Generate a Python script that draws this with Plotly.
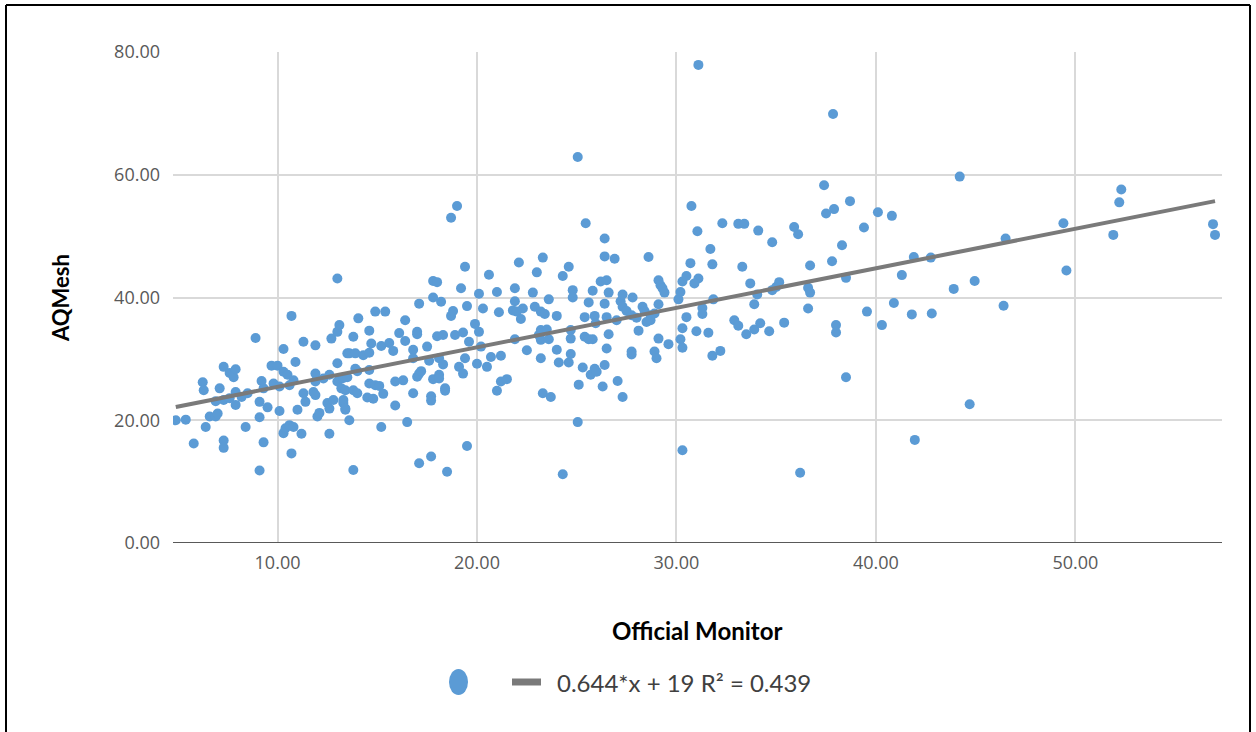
import plotly.graph_objects as go

# Official Monitor (x) values
official = [
    4.9, 5.4, 5.8, 6.25, 6.3, 6.4, 6.6, 6.9, 6.9, 7.0, 7.1, 7.3, 7.3, 7.3, 7.3, 7.6, 7.6, 7.8, 7.9, 7.9, 7.9, 8.2, 8.4, 8.5, 8.9, 9.1, 9.1, 9.1, 9.2, 9.3, 9.3, 9.5, 9.7, 9.8,
    10.0, 10.1, 10.1, 10.3, 10.3, 10.3, 10.4, 10.5, 10.6, 10.6, 10.7, 10.7, 10.8, 10.8, 10.9, 11.0, 11.2, 11.3, 11.3, 11.4, 11.8, 11.9, 11.9, 11.9, 11.9, 12.0, 12.1, 12.3, 12.5, 12.6, 12.6, 12.6, 12.7, 12.8, 13.0, 13.0, 13.0, 13.0, 13.1, 13.2, 13.2, 13.3, 13.3, 13.3, 13.4, 13.4, 13.4, 13.5, 13.5,
    13.6, 13.6, 13.8, 13.8, 13.8, 13.9, 13.9, 14.0, 14.0, 14.05, 14.3, 14.5, 14.6, 14.6, 14.6, 14.6, 14.7, 14.8, 14.9, 14.9, 15.1, 15.2, 15.2, 15.3, 15.4, 15.6, 15.8, 15.9, 15.9, 16.1, 16.3, 16.4, 16.4, 16.5, 16.8, 16.8, 16.8, 17.0, 17.0, 17.0, 17.1, 17.1, 17.1, 17.2, 17.5, 17.6, 17.7, 17.7, 17.7, 17.8, 17.8, 17.8, 18.0, 18.0, 18.1, 18.1, 18.1, 18.2, 18.3, 18.3, 18.4, 18.4, 18.5, 18.7, 18.7, 18.8, 18.9, 19.0, 19.1, 19.2, 19.3, 19.3, 19.4, 19.4,
    19.5, 19.5, 19.6, 19.9, 20.0, 20.1, 20.2, 20.5, 20.7, 21.2, 21.9, 21.2, 21.5, 21.0, 20.6, 20.1, 21.0, 20.3, 21.1,
    21.9, 21.9, 21.8, 22.3, 22.0, 22.1, 22.2, 22.5, 22.8, 22.9, 23.0, 23.1, 23.2, 23.2, 23.2, 23.2, 23.3, 23.3, 23.4, 23.5, 23.6, 23.6, 23.7, 24.0, 24.0, 24.1, 24.3, 24.3, 24.6, 24.6, 24.7, 24.7, 24.7, 24.8, 24.8, 25.05, 25.05, 25.1, 25.3, 25.4, 25.4, 25.45, 25.6, 25.6, 25.7, 25.8, 25.8, 25.9, 25.95, 25.9, 26.0, 26.2, 26.3, 26.4, 26.4, 26.4, 26.4, 26.5, 26.5, 26.5, 26.6, 26.6, 26.9, 27.0, 27.05, 27.2, 27.3, 27.3, 27.3, 27.5, 27.75, 27.75, 27.75, 27.8, 28.0, 28.1, 28.3, 28.4, 28.5, 28.6, 28.7, 28.7, 28.9, 28.9, 29.0, 29.1, 29.1, 29.1, 29.2, 29.3, 29.4, 29.6,
    30.1, 30.2, 30.3, 30.5, 30.5, 30.3, 30.2, 30.3, 30.7, 30.3, 30.75, 31.05, 31.1, 31.1, 30.9, 31.0, 31.3, 31.3, 31.6, 31.7, 31.8, 31.85, 31.8, 32.2, 32.3, 32.9, 33.1, 33.1, 33.3, 33.4, 33.5, 33.7, 33.9, 33.9, 34.05, 34.1, 34.2, 34.65, 34.8, 34.8, 35.0, 35.15, 35.4, 35.9, 36.1, 36.2, 36.6, 36.6, 36.7, 36.7, 37.4, 37.5, 37.8, 37.85, 37.9, 38.0, 38.0, 38.3, 38.5, 38.5, 38.7, 39.4, 39.55, 40.1, 40.3, 40.8, 40.9, 41.3, 41.8, 41.9, 41.95, 42.75, 42.8, 43.9, 44.2, 44.7, 44.95, 46.4, 46.5, 49.4, 49.55, 51.9, 52.2, 52.3, 56.9, 57.0,
]

# AQMesh (y) values
aqmesh = [
    20.0, 20.1, 16.2, 26.2, 24.9, 18.9, 20.6, 20.6, 23.1, 21.1, 25.2, 16.7, 15.5, 28.7, 23.3, 23.6, 27.7, 27.0, 28.3, 24.6, 22.5, 23.8, 18.9, 24.4, 33.4, 11.8, 23.0, 20.5, 26.4, 25.2, 16.4, 22.1, 28.9, 26.0,
    28.9, 25.5, 21.5, 31.6, 27.9, 17.9, 18.7, 27.4, 25.7, 19.2, 37.0, 14.6, 26.5, 18.9, 29.5, 21.7, 17.8, 32.8, 24.4, 23.0, 24.6, 32.2, 27.6, 26.3, 24.1, 20.6, 21.2, 26.8, 22.8, 27.4, 21.9, 17.8, 33.3, 23.3, 43.1, 34.4, 26.3, 29.3, 35.5, 26.8, 25.2, 26.9, 22.8, 23.3, 21.7, 24.9, 21.9, 30.9, 27.0,
    30.9, 20.0, 33.6, 24.9, 11.9, 30.9, 28.4, 28.0, 24.4, 36.6, 30.6, 23.7, 34.6, 31.0, 28.2, 26.0, 32.5, 23.5, 37.7, 25.7, 25.6, 32.1, 18.9, 24.3, 37.7, 32.6, 31.3, 26.3, 22.4, 34.2, 26.5, 36.3, 32.9, 19.7, 31.5, 30.1, 24.4, 34.4, 34.0, 27.1, 39.0, 27.6, 13.0, 28.0, 32.0, 29.7, 23.9, 23.2, 14.1, 42.7, 40.0, 26.7, 42.5, 33.7, 30.1, 27.4, 26.8, 39.3, 33.9, 29.1, 25.2, 24.8, 11.6, 53.0, 37.0, 37.8, 33.9, 54.9, 28.7, 41.5, 34.3, 27.6, 45.0, 30.1,
    38.6, 15.8, 32.8, 35.7, 29.2, 34.4, 32.0, 28.7, 30.3, 30.5, 33.2, 26.3, 26.7, 24.8, 43.7, 40.6, 40.9, 38.2, 37.6,
    41.5, 39.4, 37.9, 38.2, 37.7, 45.7, 36.5, 31.4, 40.8, 38.5, 44.1, 33.9, 37.7, 34.7, 33.1, 30.1, 46.5, 24.4, 37.3, 34.8, 39.7, 33.2, 23.8, 37.0, 31.5, 29.4, 43.5, 11.2, 45.0, 29.4, 34.7, 33.3, 30.8, 41.2, 40.0, 62.9, 19.7, 25.8, 28.6, 36.8, 33.6, 52.1, 39.2, 33.2, 27.4, 41.1, 33.2, 37.0, 35.8, 28.4, 27.9, 42.6, 25.5, 49.6, 46.7, 39.0, 29.0, 42.8, 36.8, 31.7, 40.8, 34.0, 46.3, 36.3, 26.4, 39.4, 40.5, 38.5, 23.8, 37.8, 37.1, 31.2, 30.7, 40.0, 36.7, 34.6, 38.5, 37.8, 36.0, 46.6, 37.1, 36.3, 37.4, 31.2, 30.1, 42.8, 38.9, 33.3, 42.0, 41.5, 40.8, 32.4,
    39.7, 40.9, 42.6, 43.5, 36.8, 35.0, 33.2, 31.8, 45.6, 15.1, 54.9, 50.8, 77.9, 43.1, 42.3, 34.5, 38.3, 37.3, 34.25, 47.9, 45.4, 39.7, 30.5, 31.3, 52.1, 36.3, 52.0, 35.4, 45.0, 52.0, 34.0, 42.3, 38.9, 34.8, 40.5, 50.9, 35.8, 34.5, 49.0, 41.2, 41.7, 42.5, 35.9, 51.5, 50.3, 11.45, 41.6, 38.2, 45.2, 40.8, 58.3, 53.7, 45.9, 69.9, 54.4, 35.5, 34.3, 48.5, 43.2, 27.0, 55.7, 51.4, 37.7, 53.9, 35.5, 53.3, 39.1, 43.65, 37.25, 46.6, 16.8, 46.5, 37.4, 41.4, 59.7, 22.6, 42.7, 38.65, 49.6, 52.1, 44.4, 50.2, 55.5, 57.6, 51.95, 50.2,
]

# Trend line (from legend): y = slope * x + intercept
slope = 0.644
intercept = 19
trend_label = "0.644*x + 19 R\u00b2 = 0.439"

x_ticks = [10, 20, 30, 40, 50]
y_ticks = [0, 20, 40, 60, 80]

tx = [min(official), max(official)]
ty = [slope * v + intercept for v in tx]

fig = go.Figure()
fig.add_trace(go.Scatter(
    x=official, y=aqmesh, mode="markers",
    marker=dict(size=10, color="#5B9BD5", line=dict(width=0)),
    showlegend=False, hoverinfo="x+y",
))
fig.add_trace(go.Scatter(
    x=tx, y=ty, mode="lines",
    line=dict(color="#7a7a7a", width=4),
    showlegend=False,
))

# plot area in pixels
L, R, T, B = 173, 1222, 52, 543
W, H = 1256, 732

def px(x):
    return (x - L) / (R - L)

def py(y):
    return (B - y) / (B - T)

tick_font = dict(family="Open Sans, sans-serif", size=18, color="#595959")

fig.update_layout(
    width=W, height=H,
    margin=dict(l=L, r=W - R, t=T, b=H - B),
    paper_bgcolor="white", plot_bgcolor="white",
    showlegend=False,
    xaxis=dict(
        range=[4.76, 57.35], tickvals=x_ticks, tickformat=".2f",
        showgrid=True, gridcolor="#d9d9d9", gridwidth=2,
        zeroline=False, showline=False, ticks="",
        tickfont=tick_font, ticklabelstandoff=7,
    ),
    yaxis=dict(
        range=[0, 80], tickvals=y_ticks, tickformat=".2f",
        showgrid=True, gridcolor="#d9d9d9", gridwidth=2,
        zeroline=False, showline=False, ticks="",
        tickfont=tick_font, ticklabelstandoff=12,
    ),
    shapes=[
        # darker baseline at y = 0
        dict(type="line", xref="paper", yref="y", x0=0, x1=1, y0=0, y1=0,
             line=dict(color="#595959", width=2)),
        # outer frame
        dict(type="line", xref="paper", yref="paper", x0=px(6), x1=px(1250), y0=py(5), y1=py(5),
             line=dict(color="black", width=2)),
        dict(type="line", xref="paper", yref="paper", x0=px(6), x1=px(6), y0=py(5), y1=py(740),
             line=dict(color="black", width=2)),
        dict(type="line", xref="paper", yref="paper", x0=px(1250), x1=px(1250), y0=py(5), y1=py(740),
             line=dict(color="black", width=2)),
        # legend symbols
        dict(type="circle", xref="paper", yref="paper", x0=px(449), x1=px(468), y0=py(669), y1=py(695),
             fillcolor="#5B9BD5", line=dict(width=0)),
        dict(type="line", xref="paper", yref="paper", x0=px(512), x1=px(541), y0=py(682), y1=py(682),
             line=dict(color="#7a7a7a", width=7)),
    ],
    annotations=[
        dict(text="<b>Official Monitor</b>", xref="paper", yref="paper", x=px(697), y=py(630),
             xanchor="center", yanchor="middle", showarrow=False,
             font=dict(family="Lato, sans-serif", size=24, color="#000000")),
        dict(text="<b>AQMesh</b>", xref="paper", yref="paper", x=px(60), y=py(298),
             xanchor="center", yanchor="middle", showarrow=False, textangle=-90,
             font=dict(family="Lato, sans-serif", size=22, color="#000000")),
        dict(text=trend_label, xref="paper", yref="paper", x=px(555), y=py(682),
             xanchor="left", yanchor="middle", showarrow=False,
             font=dict(family="Lato, sans-serif", size=24, color="#404040")),
    ],
)

fig.write_html("out.html")
